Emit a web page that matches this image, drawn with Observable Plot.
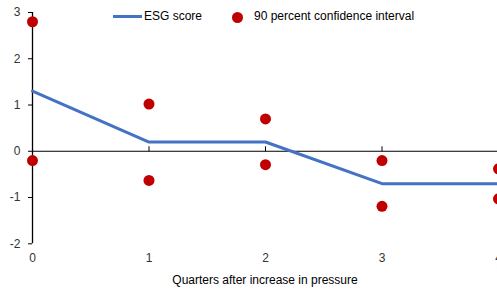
<!DOCTYPE html>
<html>
<head>
<meta charset="utf-8">
<script src="https://cdn.jsdelivr.net/npm/d3@7"></script>
<script src="https://cdn.jsdelivr.net/npm/@observablehq/plot@0.6"></script>
<style>
  html, body { margin: 0; padding: 0; background: #fff; }
  #wrap { position: relative; width: 497px; height: 291px; overflow: hidden; font-family: "Liberation Sans", Arial, sans-serif; }
  #legend { position: absolute; left: 0; top: 0; width: 497px; height: 30px; font-size: 12px; color: #000; }
  .lg-line { position: absolute; left: 113px; top: 15px; width: 29px; height: 3px; background: #4472C4; }
  .lg-t1 { position: absolute; left: 144px; top: 9px; line-height: 14px; }
  .lg-dot { position: absolute; left: 231.5px; top: 11.5px; width: 11px; height: 11px; border-radius: 50%; background: #C00000; }
  .lg-t2 { position: absolute; left: 254px; top: 9px; line-height: 14px; }
</style>
</head>
<body>
<div id="wrap"></div>
<script>
// Data
const quarters = [0, 1, 2, 3, 4];
const esgScore = [1.3, 0.2, 0.2, -0.7, -0.7];
const ciUpper = [2.8, 1.02, 0.7, -0.2, -0.38];
const ciLower = [-0.2, -0.63, -0.29, -1.19, -1.03];
const yTicks = [-2, -1, 0, 1, 2, 3];
const seriesNames = ["ESG score", "90 percent confidence interval"];
const xTitle = "Quarters after increase in pressure";

const lineData = quarters.map((q, i) => ({q, v: esgScore[i]}));
const ciData = quarters.flatMap((q, i) => [{q, v: ciUpper[i]}, {q, v: ciLower[i]}]);

const tickUp = { draw(context) { context.moveTo(0, 0); context.lineTo(0, -5); } };

const chart = Plot.plot({
  width: 497,
  height: 291,
  marginLeft: 32,
  marginRight: 0,
  marginTop: 12,
  marginBottom: 47.7,
  style: { fontFamily: "Liberation Sans, Arial, sans-serif", fontSize: "12px", color: "#000", background: "#fff", overflow: "hidden" },
  x: { domain: [0, 4], range: [32, 498] },
  y: { domain: [-2, 3] },
  marks: [
    Plot.axisY({ ticks: yTicks, tickSize: 4, tickPadding: 8, tickFormat: d => d < 0 ? "-" + Math.abs(d) : String(d), label: null, fontSize: 12, fill: "#333" }),
    Plot.axisX({ ticks: quarters, tickSize: 0, tickPadding: 10, tickFormat: d => String(d), label: null, fontSize: 12, fill: "#333" }),
    Plot.ruleX([0], { y1: -2, y2: 3, stroke: "#000", strokeWidth: 1.3 }),
    Plot.ruleY([0], { stroke: "#000", strokeWidth: 1.1 }),
    Plot.dot(quarters, { x: d => d, y: 0, symbol: tickUp, stroke: "#000", strokeWidth: 1, r: 3 }),
    Plot.line(lineData, { x: "q", y: "v", stroke: "#4472C4", strokeWidth: 3, curve: "linear" }),
    Plot.dot(ciData, { x: "q", y: "v", r: 5.5, fill: "#C00000", stroke: "none" }),
    Plot.text([xTitle], { text: d => d, frameAnchor: "bottom", dy: 40, fontSize: 12, fill: "#000" })
  ]
});

const wrap = document.getElementById("wrap");
wrap.appendChild(chart);
const legend = document.createElement("div");
legend.id = "legend";
legend.innerHTML = `<div class="lg-line"></div><div class="lg-t1">${seriesNames[0]}</div><div class="lg-dot"></div><div class="lg-t2">${seriesNames[1]}</div>`;
wrap.appendChild(legend);
</script>
</body>
</html>
